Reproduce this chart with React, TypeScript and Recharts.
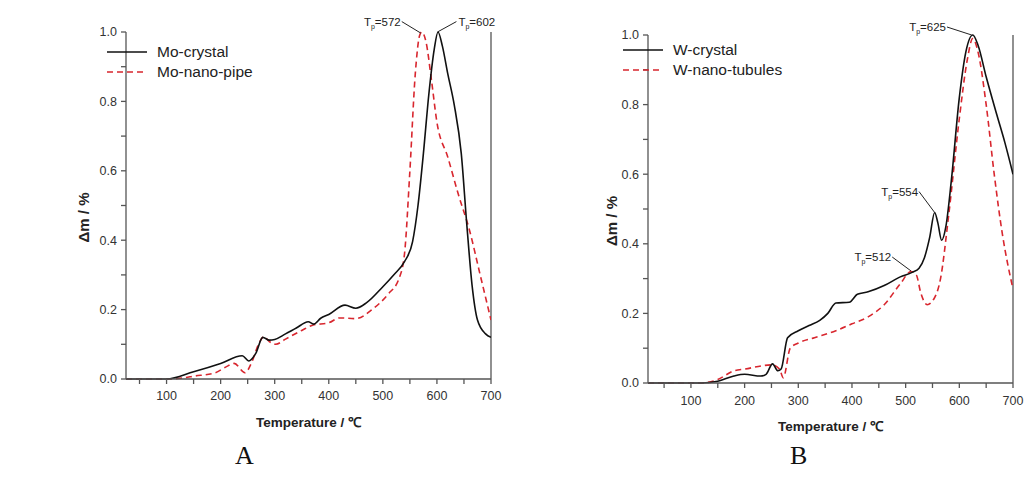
import React from "react";
import { LineChart, Line, XAxis, YAxis, ReferenceLine, ReferenceDot } from "recharts";

// Panel A: Mo samples
const moCrystalT = [25, 100, 150, 200, 240, 252, 265, 278, 290, 300, 320, 340, 362, 372, 385, 400, 430, 450, 470, 500, 520, 540, 555, 565, 575, 585, 595, 602, 610, 620, 632, 645, 655, 665, 675, 690, 700];
const moCrystalV = [0, 0, 0.021, 0.045, 0.067, 0.052, 0.074, 0.12, 0.112, 0.114, 0.13, 0.147, 0.165, 0.158, 0.175, 0.186, 0.213, 0.204, 0.22, 0.266, 0.3, 0.338, 0.396, 0.5, 0.65, 0.82, 0.95, 1.0, 0.96, 0.88, 0.79, 0.65, 0.45, 0.27, 0.17, 0.13, 0.12];
const moNanoT = [25, 100, 130, 150, 190, 210, 225, 245, 258, 270, 280, 290, 302, 320, 350, 370, 400, 420, 450, 480, 510, 530, 540, 550, 560, 568, 572, 580, 590, 600, 620, 640, 660, 680, 700];
const moNanoV = [0, 0, 0.003, 0.008, 0.018, 0.035, 0.045, 0.018, 0.05, 0.1, 0.122, 0.108, 0.1, 0.115, 0.14, 0.155, 0.162, 0.176, 0.174, 0.2, 0.245, 0.29, 0.36, 0.6, 0.88, 0.99, 1.0, 0.97, 0.86, 0.74, 0.64, 0.53, 0.43, 0.3, 0.17];

// Panel B: W samples
const wCrystalT = [20, 120, 150, 180, 200, 230, 240, 252, 262, 268, 280, 300, 320, 340, 355, 370, 395, 410, 430, 460, 490, 512, 525, 535, 545, 554, 560, 567, 575, 585, 600, 612, 625, 635, 650, 670, 685, 700];
const wCrystalV = [0, 0, 0.005, 0.02, 0.025, 0.02, 0.025, 0.055, 0.035, 0.04, 0.13, 0.15, 0.165, 0.18, 0.2, 0.23, 0.232, 0.255, 0.262, 0.28, 0.305, 0.318, 0.33, 0.36, 0.42, 0.49, 0.46, 0.41, 0.45, 0.58, 0.82, 0.95, 1.0, 0.97, 0.88, 0.77, 0.69, 0.6];
const wNanoT = [20, 120, 150, 180, 200, 250, 265, 272, 285, 300, 330, 370, 400, 430, 460, 490, 510, 520, 528, 540, 552, 565, 580, 600, 615, 625, 635, 650, 665, 680, 700];
const wNanoV = [0, 0, 0.01, 0.035, 0.04, 0.052, 0.04, 0.015, 0.1, 0.115, 0.13, 0.15, 0.17, 0.19, 0.225, 0.285, 0.32, 0.31, 0.26, 0.225, 0.24, 0.3, 0.48, 0.76, 0.93, 0.99, 0.95, 0.8, 0.6, 0.43, 0.27];

// peak annotations: label, text anchor point, peak point
const moAnnLabels = ["572", "602"];
const moAnnText = [[535, 1.03], [636, 1.03]];
const moAnnPeak = [[570, 0.997], [601, 1.0]];
const moAnnAnchor = ["end", "start"];

const wAnnLabels = ["625", "554", "512"];
const wAnnText = [[577, 1.023], [525, 0.55], [475, 0.362]];
const wAnnPeak = [[623, 1.0], [554, 0.49], [510, 0.322]];
const wAnnAnchor = ["end", "end", "end"];

const xTicks = [50, 100, 150, 200, 250, 300, 350, 400, 450, 500, 550, 600, 650, 700];
const yTicks = [0, 0.1, 0.2, 0.3, 0.4, 0.5, 0.6, 0.7, 0.8, 0.9, 1.0];

const RED = "#d8262e";
const BLACK = "#111";
const AXIS = "#555";
const FONT = "'Liberation Sans', Arial, sans-serif";

const pts = (t: number[], v: number[]) => t.map((x, i) => ({ t: x, v: v[i] }));

function Panel(props: any) {
  const { left, margin, xMin, crystal, nano, names, annLabels, annText, annPeak, annAnchor, caption, captionLeft, legendLeft, legendTop, labelTop, yLabelX } = props;
  const crystalData = pts(crystal[0], crystal[1]);
  const nanoData = pts(nano[0], nano[1]);
  const tickStyle = { fontSize: 12.5, fill: "#333", fontFamily: FONT };

  return (
    <div style={{ position: "absolute", left, top: 0, width: 512, height: 479 }}>
      <LineChart width={512} height={479} margin={margin}>
        <XAxis
          dataKey="t"
          type="number"
          domain={[xMin, 700]}
          ticks={xTicks}
          allowDataOverflow
          tickFormatter={(v: number) => (v % 100 === 0 ? String(v) : "")}
          tick={tickStyle}
          tickSize={5}
          tickMargin={labelTop}
          height={55}
          stroke={AXIS}
          strokeWidth={1.3}
          label={(p: any) => {
            const vb = p.viewBox;
            return (
              <text x={vb.x + vb.width / 2} y={vb.y + 48} textAnchor="middle" fontSize={13.5} fontWeight="bold" fill="#222" fontFamily={FONT}>
                Temperature / ℃
              </text>
            );
          }}
        />
        <YAxis
          type="number"
          domain={[0, 1]}
          ticks={yTicks}
          tickFormatter={(v: number) => (Math.round(v * 10) % 2 === 0 ? v.toFixed(1) : "")}
          tick={tickStyle}
          tickSize={5}
          tickMargin={4}
          width={margin.left}
          stroke={AXIS}
          strokeWidth={1.3}
          label={(p: any) => {
            const vb = p.viewBox;
            const cx = vb.x + yLabelX;
            const cy = vb.y + vb.height / 2 + 12;
            return (
              <text x={cx} y={cy} transform={`rotate(-90 ${cx} ${cy})`} textAnchor="middle" dominantBaseline="middle" fontSize={15} fontWeight="bold" fill="#222" fontFamily={FONT}>
                Δm / %
              </text>
            );
          }}
        />
        <ReferenceLine x={700} stroke={AXIS} strokeWidth={1.3} />
        <Line data={nanoData} dataKey="v" name={names[1]} type="monotone" stroke={RED} strokeWidth={1.6} strokeDasharray="6 4" dot={false} isAnimationActive={false} />
        <Line data={crystalData} dataKey="v" name={names[0]} type="monotone" stroke={BLACK} strokeWidth={1.6} dot={false} isAnimationActive={false} />
        {annLabels.map((lab: string, i: number) => (
          <ReferenceLine
            key={"l" + lab}
            segment={[
              { x: annText[i][0], y: annText[i][1] },
              { x: annPeak[i][0], y: annPeak[i][1] },
            ]}
            stroke="#222"
            strokeWidth={1}
            ifOverflow="visible"
          />
        ))}
        {annLabels.map((lab: string, i: number) => (
          <ReferenceDot
            key={"t" + lab}
            x={annText[i][0]}
            y={annText[i][1]}
            r={0}
            ifOverflow="visible"
            shape={(p: any) => (
              <text x={p.cx + (annAnchor[i] === "start" ? 2 : -1)} y={p.cy + 4} textAnchor={annAnchor[i]} fontSize={11.5} fill="#222" fontFamily={FONT}>
                T<tspan fontSize={7} dy={3}>p</tspan>
                <tspan dy={-3}>={lab}</tspan>
              </text>
            )}
          />
        ))}
      </LineChart>
      <div style={{ position: "absolute", left: legendLeft, top: legendTop, fontFamily: FONT, fontSize: 15.5, color: "#222" }}>
        {[names[0], names[1]].map((n: string, i: number) => (
          <div key={n} style={{ display: "flex", alignItems: "center", height: 20 }}>
            <svg width={40} height={6} style={{ marginRight: 10 }}>
              <line x1={0} y1={3} x2={40} y2={3} stroke={i === 0 ? BLACK : RED} strokeWidth={1.6} strokeDasharray={i === 0 ? undefined : "6 4"} />
            </svg>
            <span>{n}</span>
          </div>
        ))}
      </div>
      <div style={{ position: "absolute", left: captionLeft, top: 441, fontFamily: "'Liberation Serif', serif", fontSize: 26, color: "#111" }}>{caption}</div>
    </div>
  );
}

export default function App() {
  return (
    <div style={{ position: "absolute", left: 0, top: 0, width: 1024, height: 479, background: "#fff", overflow: "hidden" }}>
      <Panel
        left={0}
        margin={{ top: 32, right: 21, bottom: 45, left: 63 }}
        xMin={25}
        crystal={[moCrystalT, moCrystalV]}
        nano={[moNanoT, moNanoV]}
        names={["Mo-crystal", "Mo-nano-pipe"]}
        annLabels={moAnnLabels}
        annText={moAnnText}
        annPeak={moAnnPeak}
        annAnchor={moAnnAnchor}
        caption="A"
        captionLeft={235}
        legendLeft={107}
        legendTop={42}
        labelTop={7}
        yLabelX={22}
      />
      <Panel
        left={512}
        margin={{ top: 35, right: 11, bottom: 41, left: 68 }}
        xMin={20}
        crystal={[wCrystalT, wCrystalV]}
        nano={[wNanoT, wNanoV]}
        names={["W-crystal", "W-nano-tubules"]}
        annLabels={wAnnLabels}
        annText={wAnnText}
        annPeak={wAnnPeak}
        annAnchor={wAnnAnchor}
        caption="B"
        captionLeft={278}
        legendLeft={111}
        legendTop={40}
        labelTop={8}
        yLabelX={33}
      />
    </div>
  );
}
